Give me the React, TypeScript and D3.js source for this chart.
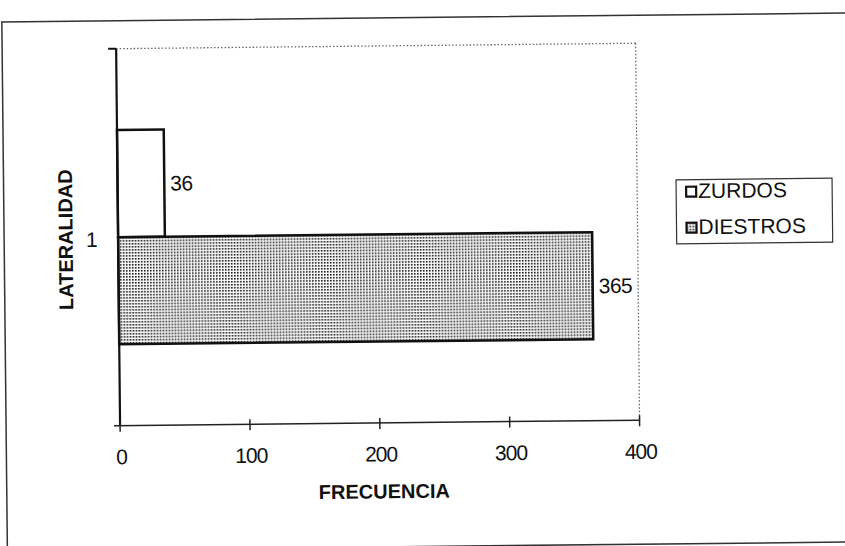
import React from "react";
import * as d3 from "d3";

const categories = ["1"];
const seriesNames = ["ZURDOS", "DIESTROS"];
const seriesValues = [36, 365];
const xTicks = [0, 100, 200, 300, 400];

const W = 845;
const H = 546;
const FONT = "'Liberation Sans', Arial, sans-serif";

export default function App() {
  const left = 118.5,
    right = 638,
    top = 45.5,
    bottom = 422.5;

  const x = d3.scaleLinear().domain([0, 400]).range([left, right]);
  const y = d3
    .scaleBand()
    .domain(categories)
    .range([top, bottom])
    .paddingInner(0)
    .paddingOuter(0.38);
  const ySeries = d3
    .scaleBand()
    .domain(seriesNames)
    .range([0, y.bandwidth()])
    .padding(0);

  const cat = categories[0];
  const bandMid = (y(cat) as number) + y.bandwidth() / 2;

  return (
    <svg
      width={W}
      height={H}
      style={{ position: "absolute", left: 0, top: 0, background: "#fff" }}
    >
      <defs>
        <pattern id="dots" width="3" height="3" patternUnits="userSpaceOnUse">
          <rect width="3" height="3" fill="#fafafa" />
          <rect width="1.6" height="1.6" fill="#1a1a1a" />
        </pattern>
      </defs>
      <g transform="rotate(-0.6 422 273)">
        {/* outer frame */}
        <rect
          x={4.5}
          y={17.5}
          width={900}
          height={529}
          fill="none"
          stroke="#333"
          strokeWidth={1.5}
        />

        {/* plot area: dotted top & right */}
        <line
          x1={left}
          x2={right}
          y1={top}
          y2={top}
          stroke="#666"
          strokeWidth={1.3}
          strokeDasharray="1.5 2"
        />
        <line
          x1={right}
          x2={right}
          y1={top}
          y2={bottom}
          stroke="#666"
          strokeWidth={1.3}
          strokeDasharray="1.5 2"
        />

        {/* bars */}
        {seriesNames.map((s, i) => (
          <rect
            key={s}
            x={x(0)}
            y={(y(cat) as number) + (ySeries(s) as number)}
            width={x(seriesValues[i]) - x(0)}
            height={ySeries.bandwidth()}
            fill={i === 0 ? "#fff" : "url(#dots)"}
            stroke="#111"
            strokeWidth={2.5}
          />
        ))}

        {/* value labels */}
        {seriesNames.map((s, i) => (
          <text
            key={s}
            x={x(seriesValues[i]) + 6}
            y={(y(cat) as number) + (ySeries(s) as number) + ySeries.bandwidth() / 2}
            dominantBaseline="central"
            fontFamily={FONT}
            fontSize={21}
            letterSpacing={-0.5}
            fill="#111"
          >
            {seriesValues[i]}
          </text>
        ))}

        {/* y axis */}
        <line x1={left} x2={left} y1={top} y2={bottom} stroke="#111" strokeWidth={2.2} />
        <line x1={left - 8} x2={left} y1={top} y2={top} stroke="#111" strokeWidth={2} />
        <text
          x={98}
          y={bandMid + 2}
          textAnchor="end"
          dominantBaseline="central"
          fontFamily={FONT}
          fontSize={21}
          fill="#111"
        >
          {cat}
        </text>

        {/* x axis */}
        <line x1={left - 6} x2={right} y1={bottom} y2={bottom} stroke="#222" strokeWidth={1.5} />
        {xTicks.map((t) => (
          <g key={t}>
            <line
              x1={x(t)}
              x2={x(t)}
              y1={bottom - 5}
              y2={bottom + 6}
              stroke="#222"
              strokeWidth={1.5}
            />
            <text
              x={x(t) + 1}
              y={461}
              textAnchor="middle"
              fontFamily={FONT}
              fontSize={21}
              letterSpacing={-1}
              fill="#111"
            >
              {t}
            </text>
          </g>
        ))}

        {/* axis titles */}
        <text
          x={382}
          y={498}
          textAnchor="middle"
          fontFamily={FONT}
          fontSize={20}
          fontWeight="bold"
          fill="#111"
        >
          FRECUENCIA
        </text>
        <text
          transform={`translate(73,${bandMid + 2}) rotate(-90)`}
          textAnchor="middle"
          fontFamily={FONT}
          fontSize={20}
          fontWeight="bold"
          fill="#111"
        >
          LATERALIDAD
        </text>

        {/* legend */}
        <rect
          x={677}
          y={182.5}
          width={156}
          height={64}
          fill="#fff"
          stroke="#333"
          strokeWidth={1.2}
        />
        {seriesNames.map((s, i) => (
          <g key={s} transform={`translate(687,${189.5 + i * 36})`}>
            <rect
              width={10}
              height={10}
              fill={i === 0 ? "#fff" : "url(#dots)"}
              stroke="#111"
              strokeWidth={2.2}
            />
            <text
              x={12}
              y={11.5}
              fontFamily={FONT}
              fontSize={21}
              fill="#111"
            >
              {s}
            </text>
          </g>
        ))}
      </g>
    </svg>
  );
}
